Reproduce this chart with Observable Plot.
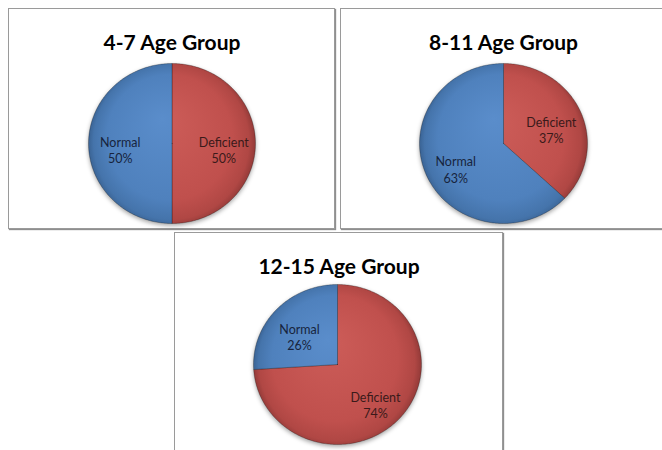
<!DOCTYPE html>
<html><head><meta charset="utf-8">
<script src="https://cdn.jsdelivr.net/npm/d3@7"></script>
<script src="https://cdn.jsdelivr.net/npm/@observablehq/plot@0.6"></script>
<style>
body{margin:0;background:#fff;}
#wrap{position:relative;width:662px;height:450px;overflow:hidden;background:#fff;font-family:Lato,sans-serif;}
.panel{position:absolute;box-sizing:border-box;border:1px solid #9a9a9a;box-shadow:1px 1px 1px #8f8f8f;background:#fff;}
.panel svg{display:block;background:transparent;}
</style></head><body>
<div id="wrap"></div>
<script>
// ---- data ----
const groups = ["4-7 Age Group", "8-11 Age Group", "12-15 Age Group"];
const categories = ["Deficient", "Normal"];
const deficient = [50, 37, 74];
const normal = [50, 63, 26];
const sliceColors = ["#c0504d", "#4f81bd"];
const labelColors = ["#3a1a1a", "#17243d"];

// ---- layout (positions only) ----
const layout = [
  {left: 8,   top: 8,   w: 327, h: 221, cx: 162.5, cy: 134, rx: 83.5, ry: 80},
  {left: 340, top: 8,   w: 326, h: 221, cx: 162,   cy: 134, rx: 84,   ry: 80},
  {left: 174, top: 232, w: 329, h: 230, cx: 162,   cy: 131, rx: 84,   ry: 80}
];
const shades = {
  "#c0504d": ["#cd5d59", "#c0504d", "#b04744", "#933a38"],
  "#4f81bd": ["#5a8dcb", "#4f81bd", "#4574ab", "#3a6394"]
};

function slices(i) {
  const vals = categories.map((c, k) => ({cat: c, v: [deficient, normal][k][i]}));
  return d3.pie().sort(null).value(d => d.v)(vals);
}
function slicePoints(arcs) {
  const pts = [];
  for (const a of arcs) {
    const n = Math.max(2, Math.ceil((a.endAngle - a.startAngle) / (Math.PI / 180)));
    pts.push({cat: a.data.cat, x: 0, y: 0});
    for (let j = 0; j <= n; j++) {
      const t = a.startAngle + (a.endAngle - a.startAngle) * j / n;
      pts.push({cat: a.data.cat, x: Math.sin(t), y: Math.cos(t)});
    }
    pts.push({cat: a.data.cat, x: 0, y: 0});
  }
  return pts;
}

const wrap = document.getElementById("wrap");
groups.forEach((g, i) => {
  const L = layout[i];
  const arcs = slices(i);
  const pts = slicePoints(arcs);
  const labels = arcs.map(a => {
    const m = (a.startAngle + a.endAngle) / 2;
    return {cat: a.data.cat, v: a.data.v, x: 0.62 * Math.sin(m), y: 0.62 * Math.cos(m)};
  });
  const gradIds = sliceColors.map((c, k) => `grad${i}_${k}`);
  const chart = Plot.plot({
    width: L.w - 2, height: L.h - 2, margin: 0,
    style: {background: "transparent", overflow: "visible"},
    x: {domain: [-1, 1], range: [L.cx - L.rx, L.cx + L.rx], axis: null},
    y: {domain: [-1, 1], range: [L.cy + L.ry, L.cy - L.ry], axis: null},
    color: {domain: categories, range: gradIds.map(id => `url(#${id})`)},
    marks: [
      Plot.line(pts, {x: "x", y: "y", z: "cat", fill: "cat", stroke: "rgba(0,0,0,0.25)", strokeWidth: 1, curve: "linear"}),
      Plot.text(labels, {
        x: "x", y: "y", text: d => `${d.cat}\n${d.v}%`,
        fill: {value: d => labelColors[categories.indexOf(d.cat)], scale: null},
        fontSize: 12.5, fontFamily: "Lato, sans-serif", lineHeight: 1.3, dy: 6
      }),
      Plot.text([g], {text: d => d, frameAnchor: "top", dy: 40, lineAnchor: "bottom",
        fontSize: 21, fontWeight: "bold", fontFamily: "Lato, sans-serif", fill: "#000"})
    ]
  });
  const svg = d3.select(chart.tagName === "svg" ? chart : chart.querySelector("svg"));
  const defs = svg.insert("defs", ":first-child");
  sliceColors.forEach((c, k) => {
    const rg = defs.append("radialGradient").attr("id", gradIds[k])
      .attr("gradientUnits", "userSpaceOnUse")
      .attr("cx", L.cx).attr("cy", L.cy).attr("r", L.rx)
      .attr("fx", L.cx - 10).attr("fy", L.cy - 25);
    const s = shades[c];
    [[0, s[0]], [0.75, s[1]], [0.93, s[2]], [1, s[3]]].forEach(([o, col]) =>
      rg.append("stop").attr("offset", o).attr("stop-color", col));
  });
  svg.selectAll('g[aria-label="line"]').style("filter", "drop-shadow(0px 2px 2px rgba(0,0,0,0.35))");
  const div = document.createElement("div");
  div.className = "panel";
  div.style.left = L.left + "px"; div.style.top = L.top + "px";
  div.style.width = L.w + "px"; div.style.height = L.h + "px";
  div.appendChild(chart);
  wrap.appendChild(div);
});
</script>
</body></html>
